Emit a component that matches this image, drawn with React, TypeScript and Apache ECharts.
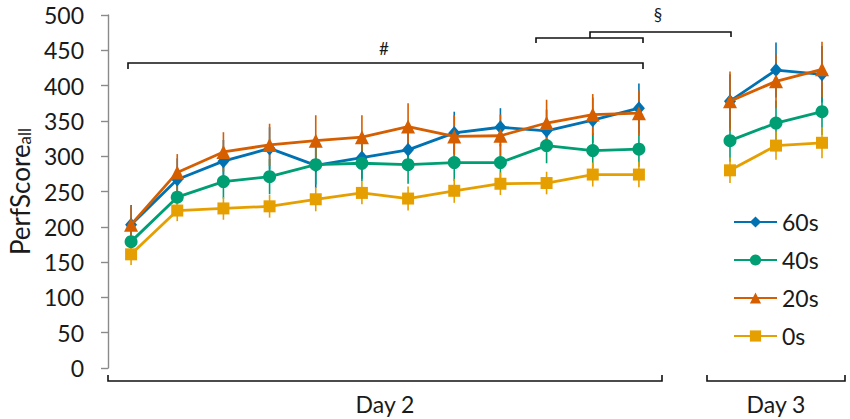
import React, { useEffect, useRef } from "react";
import * as echarts from "echarts";

// ---- data ----
const day2Trials = ["1", "2", "3", "4", "5", "6", "7", "8", "9", "10", "11", "12"];
const day3Trials = ["1", "2", "3"];
const yTicks = [0, 50, 100, 150, 200, 250, 300, 350, 400, 450, 500];

const seriesNames = ["60s", "40s", "20s", "0s"];

const day2_60s = [203, 267, 293, 311, 287, 298, 309, 333, 341, 336, 351, 368];
const day2_40s = [179, 242, 264, 271, 288, 290, 288, 291, 291, 315, 308, 310];
const day2_20s = [203, 277, 306, 316, 322, 327, 342, 328, 329, 347, 359, 361];
const day2_0s = [161, 223, 226, 229, 239, 248, 240, 251, 261, 262, 274, 274];

const day3_60s = [378, 422, 416];
const day3_40s = [322, 347, 363];
const day3_20s = [378, 406, 423];
const day3_0s = [280, 315, 319];

const err2_60s = [28, 30, 30, 30, 32, 30, 30, 30, 27, 30, 32, 35];
const err2_40s = [20, 22, 24, 25, 28, 26, 27, 26, 26, 25, 25, 25];
const err2_20s = [26, 26, 28, 30, 36, 31, 33, 30, 30, 33, 29, 32];
const err2_0s = [15, 15, 16, 16, 17, 16, 17, 17, 16, 16, 17, 18];

const err3_60s = [38, 39, 40];
const err3_40s = [30, 32, 33];
const err3_20s = [42, 38, 39];
const err3_0s = [18, 20, 22];

// ---- style ----
const COLORS = ["#0072B2", "#009E73", "#D55E00", "#E69F00"];
const SYMBOLS = ["diamond", "circle", "triangle", "rect"];
const SYMBOL_SIZES: any[] = [[12, 14], 13, 14, 12];
const FONT = "Lato";
const TEXT = "#1a1a1a";

const G1 = { left: 108, top: 15, width: 554, height: 353 };
const G2 = { left: 707, top: 15, width: 138, height: 353 };

export default function App() {
  const ref = useRef<HTMLDivElement>(null);

  useEffect(() => {
    document.body.style.margin = "0";
    if (!ref.current) return;
    const chart = echarts.init(ref.current, undefined, { renderer: "svg" });

    const day2Vals = [day2_60s, day2_40s, day2_20s, day2_0s];
    const day3Vals = [day3_60s, day3_40s, day3_20s, day3_0s];
    const day2Err = [err2_60s, err2_40s, err2_20s, err2_0s];
    const day3Err = [err3_60s, err3_40s, err3_20s, err3_0s];

    const series: any[] = [];
    const errSeries = (name: string, idx: number, vals: number[], errs: number[], axis: number) => ({
      type: "custom",
      name: name + " error",
      xAxisIndex: axis,
      yAxisIndex: axis,
      z: 1,
      encode: { x: 0, y: 1 },
      data: vals.map((v, i) => [i, v, errs[i]]),
      renderItem: (params: any, api: any) => {
        const x = api.value(0);
        const v = api.value(1);
        const e = api.value(2);
        const top = api.coord([x, v + e]);
        const bot = api.coord([x, v - e]);
        return {
          type: "line",
          shape: { x1: top[0], y1: top[1], x2: bot[0], y2: bot[1] },
          style: { stroke: COLORS[idx], lineWidth: 1.6 },
        };
      },
    });
    const lineSeries = (name: string, idx: number, vals: number[], axis: number) => ({
      type: "line",
      name,
      xAxisIndex: axis,
      yAxisIndex: axis,
      z: 2 + idx,
      data: vals,
      symbol: SYMBOLS[idx],
      symbolSize: SYMBOL_SIZES[idx],
      showAllSymbol: true,
      lineStyle: { color: COLORS[idx], width: 2.8 },
      itemStyle: { color: COLORS[idx] },
      emphasis: { disabled: true },
    });

    seriesNames.forEach((n, i) => {
      series.push(errSeries(n, i, day2Vals[i], day2Err[i], 0));
      series.push(errSeries(n, i, day3Vals[i], day3Err[i], 1));
    });
    seriesNames.forEach((n, i) => {
      series.push(lineSeries(n, i, day2Vals[i], 0));
      series.push(lineSeries(n, i, day3Vals[i], 1));
    });

    const bracket = (pts: number[][]) => ({
      type: "polyline",
      shape: { points: pts },
      style: { stroke: "#111", lineWidth: 1.6, fill: null },
      silent: true,
    });

    const hiddenX = (gridIndex: number, data: string[], name: string) => ({
      type: "category",
      gridIndex,
      data,
      boundaryGap: true,
      axisLine: { show: false },
      axisTick: { show: false },
      axisLabel: { show: false },
      splitLine: { show: false },
      name,
      nameLocation: "middle",
      nameGap: 24,
      nameTextStyle: { fontFamily: FONT, fontSize: 23, color: TEXT, verticalAlign: "top" },
    });

    chart.setOption({
      animation: false,
      backgroundColor: "#fff",
      textStyle: { fontFamily: FONT },
      grid: [
        { ...G1, containLabel: false, outerBoundsMode: "none" },
        { ...G2, containLabel: false, outerBoundsMode: "none" },
      ],
      xAxis: [hiddenX(0, day2Trials, "Day 2"), hiddenX(1, day3Trials, "Day 3")],
      yAxis: [
        {
          type: "value",
          gridIndex: 0,
          min: yTicks[0],
          max: yTicks[yTicks.length - 1],
          interval: 50,
          axisLine: { show: true, lineStyle: { color: "#8a8a8a", width: 1.4 } },
          axisTick: { show: true, length: 7, lineStyle: { color: "#8a8a8a", width: 1.4 } },
          axisLabel: { fontFamily: FONT, fontSize: 23, color: TEXT, margin: 24 },
          splitLine: { show: false },
          name: "{main|PerfScore}{sub|all}",
          nameLocation: "middle",
          nameRotate: 90,
          nameGap: 72,
          nameTextStyle: {
            color: TEXT,
            rich: {
              main: { fontFamily: FONT, fontSize: 26, color: TEXT },
              sub: { fontFamily: FONT, fontSize: 17, color: TEXT, verticalAlign: "bottom", padding: [10, 0, 0, 0] },
            },
          },
        },
        {
          type: "value",
          gridIndex: 1,
          min: yTicks[0],
          max: yTicks[yTicks.length - 1],
          interval: 50,
          show: false,
          splitLine: { show: false },
        },
      ],
      legend: {
        data: seriesNames,
        orient: "vertical",
        left: 733,
        top: 210,
        padding: 0,
        itemWidth: 43,
        itemHeight: 14,
        itemGap: 14,
        textStyle: { fontFamily: FONT, fontSize: 23, color: TEXT, lineHeight: 24 },
        selectedMode: false,
      },
      graphic: [
        bracket([[108, 375], [108, 381], [662, 381], [662, 375]]),
        bracket([[707, 375], [707, 381], [845, 381], [845, 375]]),
        bracket([[128, 69], [128, 63], [643, 63], [643, 69]]),
        bracket([[536, 43], [536, 38], [643, 38], [643, 43]]),
        bracket([[590, 38], [590, 32], [731, 32], [731, 37]]),
        {
          type: "text",
          x: 384,
          y: 48,
          style: { text: "#", fontFamily: FONT, fontSize: 17, fill: TEXT, align: "center", verticalAlign: "middle" },
        },
        {
          type: "text",
          x: 658,
          y: 14,
          style: { text: "§", fontFamily: FONT, fontSize: 17, fill: TEXT, align: "center", verticalAlign: "middle" },
        },
      ],
      series,
    });

    return () => chart.dispose();
  }, []);

  return <div ref={ref} style={{ width: 850, height: 419 }} />;
}
